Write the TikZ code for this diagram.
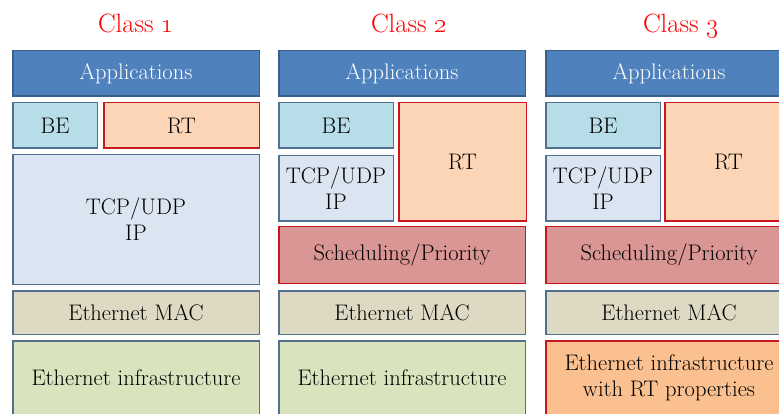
\RequirePackage{fix-cm}
\documentclass[tikz,border=0pt]{standalone}
\usepackage{xcolor}
\usepackage{tikz}
\definecolor{appblue}{HTML}{4F81BD}
\definecolor{appline}{HTML}{3A5F8B}
\definecolor{beblue}{HTML}{B7DEE8}
\definecolor{tcpblue}{HTML}{DBE5F1}
\definecolor{rtorange}{HTML}{FBD5B5}
\definecolor{schedred}{HTML}{D99694}
\definecolor{macgray}{HTML}{DDD9C3}
\definecolor{infragreen}{HTML}{D7E4BD}
\definecolor{infraorange}{HTML}{FAC090}
\definecolor{layerline}{HTML}{52708F}
\definecolor{rtline}{HTML}{C8171E}
\tikzset{layer/.style 2 args={draw=layerline, line width=1.5pt, inner sep=0pt, align=center, minimum width=#1-1.5, minimum height=#2-1.5, font=\fontsize{22.5}{26}\selectfont}, rtlayer/.style 2 args={layer={#1}{#2}, draw=rtline}, classtitle/.style={anchor=base, text=red, font=\fontsize{26.5}{30}\selectfont}}

\begin{document}
\begin{tikzpicture}[x=1pt, y=-1pt]
\useasboundingbox (0, 0) rectangle (779, 414);
\clip (0, 0) rectangle (779, 414);
 % titles
 \node[classtitle] (t1) at (136, 33) {Class \oldstylenums{1}};
 \node[classtitle] (t2) at (409, 33) {Class \oldstylenums{2}};
 \node[classtitle] (t3) at (681, 33) {Class \oldstylenums{3}};
 % class 1
 \node[layer={248}{47}, fill=appblue, draw=appline, text=white] (app1) at (136, 73.5) {Applications};
 \node[layer={86}{47}, fill=beblue] (be1) at (55, 125.5) {BE};
 \node[rtlayer={157}{47}, fill=rtorange] (rt1) at (181.5, 125.5) {RT};
 \node[layer={248}{131}, fill=tcpblue] (ip1) at (136, 219.5) {TCP/UDP\\IP};
 \node[layer={248}{45}, fill=macgray] (mac1) at (136, 312.5) {Ethernet MAC};
 \node[layer={248}{76}, fill=infragreen] (eth1) at (136, 378) {Ethernet infrastructure};
 % class 2
 \node[layer={248}{47}, fill=appblue, draw=appline, text=white] (app2) at (402, 73.5) {Applications};
 \node[layer={116}{47}, fill=beblue] (be2) at (336, 125.5) {BE};
 \node[layer={116}{67}, fill=tcpblue] (ip2) at (336, 188.5) {TCP/UDP\\IP};
 \node[rtlayer={129}{120}, fill=rtorange] (rt2) at (462.5, 162) {RT};
 \node[rtlayer={248}{58}, fill=schedred] (sched2) at (402, 255) {Scheduling/Priority};
 \node[layer={248}{45}, fill=macgray] (mac2) at (402, 312.5) {Ethernet MAC};
 \node[layer={248}{76}, fill=infragreen] (eth2) at (402, 378) {Ethernet infrastructure};
 % class 3
 \node[layer={248}{47}, fill=appblue, draw=appline, text=white] (app3) at (669, 73.5) {Applications};
 \node[layer={116}{47}, fill=beblue] (be3) at (603, 125.5) {BE};
 \node[layer={116}{67}, fill=tcpblue] (ip3) at (603, 188.5) {TCP/UDP\\IP};
 \node[rtlayer={129}{120}, fill=rtorange] (rt3) at (728.5, 162) {RT};
 \node[rtlayer={248}{58}, fill=schedred] (sched3) at (669, 255) {Scheduling/Priority};
 \node[layer={248}{45}, fill=macgray] (mac3) at (669, 312.5) {Ethernet MAC};
 \node[rtlayer={248}{76}, fill=infraorange] (eth3) at (669, 378) {Ethernet infrastructure\\with RT properties};
\end{tikzpicture}
\end{document}
